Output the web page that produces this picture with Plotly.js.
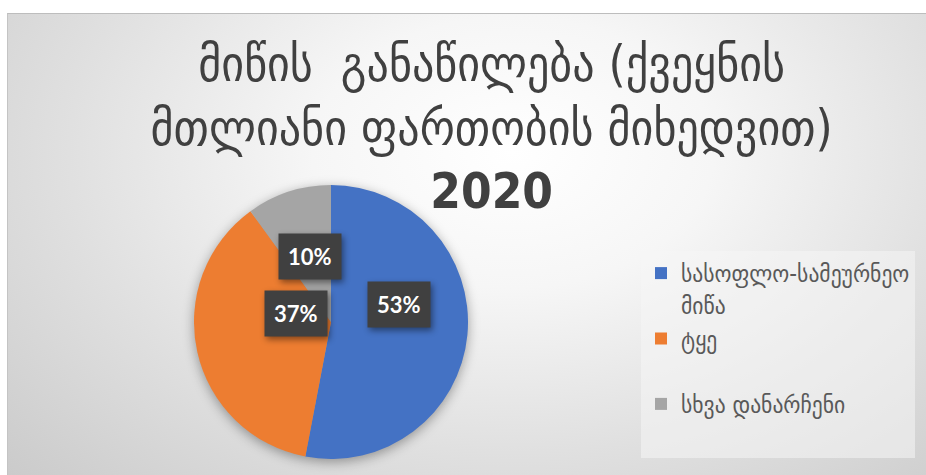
<!DOCTYPE html>
<html>
<head>
<meta charset="utf-8">
<script src="https://cdn.plot.ly/plotly-3.0.1.min.js"></script>
<style>
  html, body { margin: 0; padding: 0; background: #ffffff; }
  #wrap { position: relative; width: 926px; height: 475px; overflow: hidden; }
  #bg {
    position: absolute; left: 7px; top: 13px; right: 0; bottom: 0;
    border-top: 1px solid #bdbdbd; border-left: 1px solid #c4c4c4;
    background: radial-gradient(ellipse 78% 105% at 55% 30%, #ffffff 0%, #f6f6f6 28%, #e0e0e0 62%, #c9c9c9 100%);
  }
  #chart { position: absolute; left: 0; top: 0; width: 926px; height: 475px; }
  .pielayer { filter: drop-shadow(0px 3px 6px rgba(0,0,0,0.35)); }
  .annotation .bg { filter: drop-shadow(2px 3px 3px rgba(0,0,0,0.45)); }
</style>
</head>
<body>
<div id="wrap">
  <div id="bg"></div>
  <div id="chart"></div>
</div>
<script>
const categories = ["სასოფლო-სამეურნეო<br>მიწა", "ტყე<br> ", "სხვა დანარჩენი<br> "];
const shares = [53, 37, 10];
const sliceColors = ["#4472C4", "#ED7D31", "#A5A5A5"];

const W = 926, H = 475;
const cxPx = 331, cyPx = 322, rPx = 137;

const trace = {
  type: "pie",
  labels: categories,
  values: shares,
  sort: false,
  direction: "clockwise",
  rotation: 0,
  textinfo: "none",
  hoverinfo: "label+percent",
  marker: { colors: sliceColors, line: { width: 0 } },
  domain: {
    x: [(cxPx - rPx) / W, (cxPx + rPx) / W],
    y: [(H - cyPx - rPx) / H, (H - cyPx + rPx) / H]
  }
};

// data labels at half radius on each slice's mid-angle
const total = shares.reduce((a, b) => a + b, 0);
let cum = 0;
const annotations = shares.map((v) => {
  const mid = (cum + v / 2) / total;
  cum += v;
  const th = 2 * Math.PI * mid;
  const x = (cxPx + 0.5 * rPx * Math.sin(th)) / W;
  const y = (H - cyPx + 0.5 * rPx * Math.cos(th)) / H;
  return {
    xref: "paper", yref: "paper", x: x, y: y,
    text: "<b>" + Math.round(v / total * 100) + "%</b>",
    showarrow: false,
    font: { family: "Lato, 'Open Sans', sans-serif", size: 22, color: "#ffffff" },
    bgcolor: "#404040",
    borderpad: 9
  };
});

const layout = {
  width: W, height: H,
  margin: { l: 0, r: 0, t: 0, b: 0 },
  paper_bgcolor: "rgba(0,0,0,0)",
  plot_bgcolor: "rgba(0,0,0,0)",
  title: {
    text: "მიწის  განაწილება (ქვეყნის<br>მთლიანი ფართობის მიხედვით)<br><span style=\"font-family:'Liberation Sans Narrow','DejaVu Sans Condensed',sans-serif\"><b>2020</b></span>",
    font: { family: "'DejaVu Sans Condensed', 'DejaVu Sans', sans-serif", size: 49, color: "#404040" },
    x: 0.531, xanchor: "center",
    y: 1 - 81 / H, yanchor: "middle", yref: "paper"
  },
  showlegend: true,
  legend: {
    x: 641 / W, xanchor: "left",
    y: 1 - 251 / H, yanchor: "top",
    bgcolor: "rgba(245,245,245,0.55)",
    valign: "top",
    font: { family: "'DejaVu Sans Condensed', 'DejaVu Sans', sans-serif", size: 24, color: "#595959" }
  },
  annotations: annotations
};

Plotly.newPlot("chart", [trace], layout, { displayModeBar: false, staticPlot: true });
</script>
</body>
</html>
